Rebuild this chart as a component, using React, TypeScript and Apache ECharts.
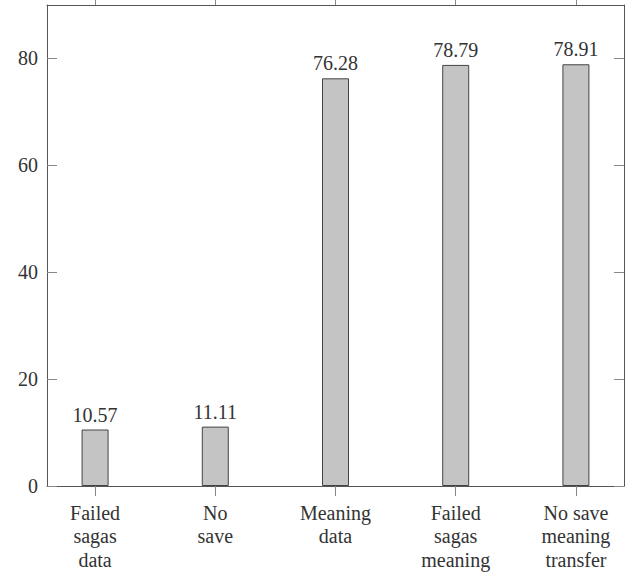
import React, { useEffect, useRef } from "react";
import * as echarts from "echarts";

const categories = [
  "Failed\nsagas\ndata",
  "No\nsave",
  "Meaning\ndata",
  "Failed\nsagas\nmeaning",
  "No save\nmeaning\ntransfer",
];
const values = [10.57, 11.11, 76.28, 78.79, 78.91];
const yTickValues = [0, 20, 40, 60, 80];
const categoryPositions = [0, 1, 2, 3, 4];

const FONT = "'Liberation Serif', 'DejaVu Serif', serif";

export default function App() {
  const ref = useRef<HTMLDivElement>(null);
  useEffect(() => {
    if (!ref.current) return;
    const chart = echarts.init(ref.current, undefined, { renderer: "svg" });
    const axisLineStyle = { color: "#555", width: 1 };
    const tickStyle = { color: "#888", width: 1 };
    const xAxisBase = {
      type: "value" as const,
      min: -0.4,
      max: 4.4,
      splitLine: { show: false },
      axisLine: { show: true, onZero: false, lineStyle: axisLineStyle },
      axisTick: {
        show: true,
        inside: false,
        length: 10,
        customValues: categoryPositions,
        lineStyle: tickStyle,
      },
    };
    const yAxisBase = {
      type: "value" as const,
      min: 0,
      max: 90,
      splitLine: { show: false },
      axisLine: { show: true, onZero: false, lineStyle: axisLineStyle },
      axisTick: {
        show: true,
        inside: true,
        length: 10,
        customValues: yTickValues,
        lineStyle: tickStyle,
      },
    };
    chart.setOption({
      animation: false,
      backgroundColor: "#ffffff",
      grid: { left: 47, right: 10, top: 5, bottom: 90, containLabel: false },
      xAxis: [
        {
          ...xAxisBase,
          position: "bottom",
          axisLabel: {
            show: true,
            customValues: categoryPositions,
            formatter: (v: number) => categories[Math.round(v)] ?? "",
            fontFamily: FONT,
            fontSize: 20,
            lineHeight: 23.5,
            color: "#333",
            margin: 15,
            align: "center",
          },
        },
        {
          ...xAxisBase,
          position: "top",
          axisLabel: { show: false },
        },
      ],
      yAxis: [
        {
          ...yAxisBase,
          position: "left",
          axisLabel: {
            show: true,
            customValues: yTickValues,
            fontFamily: FONT,
            fontSize: 20,
            color: "#333",
            margin: 9,
          },
        },
        {
          ...yAxisBase,
          position: "right",
          axisLabel: { show: false },
        },
      ],
      series: [
        {
          type: "bar",
          xAxisIndex: 0,
          yAxisIndex: 0,
          barWidth: 27,
          data: values.map((v, i) => [categoryPositions[i], v]),
          itemStyle: { color: "#c4c4c4", borderColor: "#444", borderWidth: 1 },
          label: {
            show: true,
            position: "top",
            distance: 5,
            formatter: (p: any) => p.value[1].toFixed(2),
            fontFamily: FONT,
            fontSize: 20,
            lineHeight: 20,
            color: "#333",
          },
        },
      ],
    });
    return () => chart.dispose();
  }, []);
  return (
    <div
      ref={ref}
      style={{ position: "fixed", left: 0, top: 0, width: 634, height: 576 }}
    />
  );
}
